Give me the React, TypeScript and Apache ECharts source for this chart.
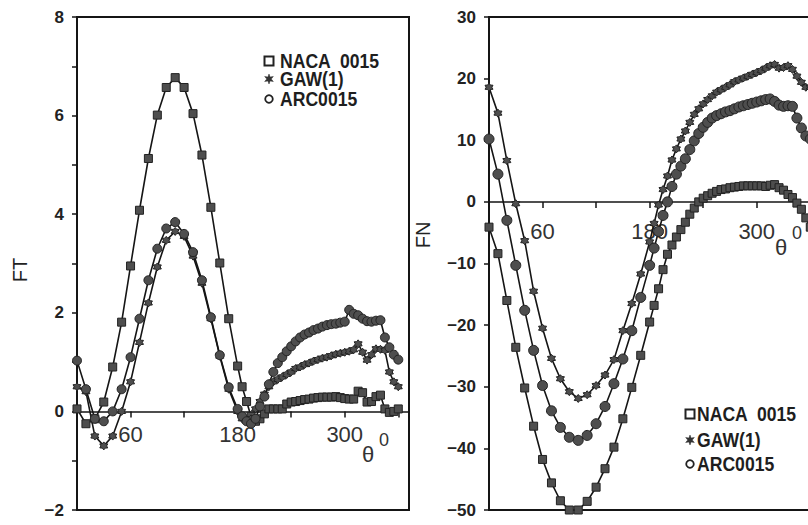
import React, { useEffect, useRef } from "react";
import * as echarts from "echarts";

// Azimuth positions (degrees): 10° steps on the upwind half, 5° on the downwind half
const THETA = [
  0, 10, 20, 30, 40, 50, 60, 70, 80, 90, 100, 110, 120, 130, 140, 150, 160, 170, 180,
  185, 190, 195, 200, 205, 210, 215, 220, 225, 230,
  235, 240, 245, 250, 255, 260, 265, 270, 275, 280,
  285, 290, 295, 300, 305, 310, 315, 320, 325, 330,
  335, 340, 345, 350, 355, 360,
];

// Tangential force FT
const FT_NACA = [
  0.05, -0.25, -0.15, 0.19, 0.9, 1.81, 2.95, 4.08, 5.13, 6.01, 6.57, 6.77, 6.57, 6.04, 5.2, 4.14, 3.01, 1.88, 0.92,
  0.5, 0.2, -0.1, -0.2, -0.15, -0.05, 0.05, 0.05, 0.05, 0.05,
  0.15, 0.19, 0.2, 0.22, 0.24, 0.25, 0.27, 0.28, 0.29, 0.29,
  0.29, 0.3, 0.28, 0.26, 0.25, 0.25, 0.41, 0.38, 0.19, 0.2,
  0.3, 0.33, 0.05, -0.02, 0.0, 0.05,
];
const FT_GAW = [
  0.5, 0.4, -0.5, -0.7, -0.5, 0.0, 0.6, 1.4, 2.2, 2.93, 3.47, 3.65, 3.55, 3.15, 2.6, 1.88, 1.12, 0.45, 0.0,
  -0.15, -0.2, -0.15, 0.05, 0.2, 0.35, 0.5, 0.6, 0.65, 0.7,
  0.75, 0.8, 0.87, 0.9, 0.95, 0.98, 1.02, 1.05, 1.08, 1.1,
  1.13, 1.16, 1.18, 1.2, 1.22, 1.25, 1.37, 1.2, 1.04, 1.15,
  1.27, 1.26, 1.24, 0.8, 0.6, 0.5,
];
const FT_ARC = [
  1.03, 0.45, -0.15, -0.2, 0.0, 0.45, 1.1, 1.88, 2.66, 3.3, 3.71, 3.84, 3.6, 3.23, 2.66, 1.91, 1.14, 0.49, 0.05,
  -0.1, -0.2, -0.25, -0.15, 0.1, 0.3, 0.55, 0.8, 0.98, 1.1,
  1.22, 1.32, 1.42, 1.5, 1.56, 1.6, 1.65, 1.68, 1.72, 1.75,
  1.77, 1.78, 1.8, 1.82, 2.06, 1.98, 1.95, 1.88, 1.83, 1.82,
  1.84, 1.85, 1.5, 1.3, 1.15, 1.05,
];

// Normal force FN
const FN_NACA = [
  -4.1, -8.4, -16.0, -23.6, -30.2, -36.4, -41.8, -45.6, -48.5, -50, -50, -48.6, -46.3, -43.3, -39.8, -35.2, -30.1, -24.9, -19.5,
  -16.8, -14.1, -11.0, -8.5, -7.0, -5.7, -4.5, -3.3, -2.0, -1.0,
  0.0, 0.6, 1.0, 1.4, 1.7, 2.0, 2.1, 2.3, 2.4, 2.5,
  2.6, 2.6, 2.6, 2.6, 2.6, 2.5, 2.7, 2.8, 2.3, 1.9,
  1.2, 0.7, -0.2, -1.2, -2.6, -4.1,
];
const FN_GAW = [
  18.6, 14.4, 6.7, -0.3, -6.3, -14.5, -20.5, -25.4, -28.7, -30.8, -31.9, -31.3, -29.8, -28.1, -25.6, -20.9, -16.5, -11.7, -6.5,
  -3.5, -0.5, 2.0, 4.2, 6.8, 8.6, 10.2, 11.5, 12.9, 14.2,
  15.1, 15.9, 16.6, 17.2, 17.8, 18.2, 18.6, 19.0, 19.5, 19.8,
  20.1, 20.4, 20.7, 21.0, 21.3, 21.7, 22.1, 22.3, 21.7, 21.8,
  22.1, 21.5, 20.4, 19.4, 18.6, 18.6,
];
const FN_ARC = [
  10.2, 4.5, -3.0, -10.3, -17.6, -24.1, -29.8, -33.9, -36.6, -38.2, -38.7, -37.9, -36.0, -33.2, -29.5, -25.5, -20.9, -15.5, -10.3,
  -7.5, -4.8, -2.2, 0.0, 2.5, 4.5, 5.8, 7.0, 8.5, 9.9,
  11.1, 12.1, 12.9, 13.6, 14.0, 14.3, 14.6, 14.8, 15.1, 15.4,
  15.6, 15.8, 16.0, 16.2, 16.4, 16.6, 16.7, 16.3, 15.7, 15.5,
  15.6, 15.5, 13.6, 12.0, 10.7, 10.2,
];

const SERIES_NAMES = ["NACA  0015", "GAW(1)", "ARC0015"];
const X_LABELS = [60, 180, 300];

// y ranges of the two panels
const FT_RANGE = [-2, 8];
const FN_RANGE = [-50, 30];

const INK = "#151515";
const MARK_FILL = "#4e4e4e";
const FONT = '"Liberation Sans", Arial, sans-serif';
const PLOT_TOP = 17;
const PLOT_H = 493;
const PLOT_W = 332;

// six-pointed star used for the GAW(1) markers
const STAR_PATH =
  "path://M0,-10 L3.2,-5.5 L8.7,-5 L6.2,0 L8.7,5 L3.2,5.5 L0,10 L-3.2,5.5 L-8.7,5 L-6.2,0 L-8.7,-5 L-3.2,-5.5 Z";

const fmtNum = (v: number) => (v < 0 ? "\u2212" + Math.abs(v) : String(v));

// the θ axis runs along the zero line of the force axis
function zeroOffset(range: number[]) {
  return -(PLOT_H * (0 - range[0])) / (range[1] - range[0]);
}

function xAxis(gridIndex: number, range: number[], labelMargin: number) {
  return {
    type: "value",
    gridIndex,
    position: "bottom",
    offset: zeroOffset(range),
    min: 0,
    max: 372,
    interval: 60,
    axisLine: { show: true, onZero: false, lineStyle: { color: INK, width: 1.6 } },
    axisTick: { show: true, length: 6, lineStyle: { color: INK, width: 1.5 } },
    axisLabel: {
      margin: labelMargin,
      color: "#333",
      fontSize: 22,
      fontFamily: FONT,
      formatter: (v: number) => (X_LABELS.includes(v) ? String(v) : ""),
    },
    splitLine: { show: false },
  };
}

function yAxis(gridIndex: number, range: number[], interval: number, labelEvery: number) {
  return {
    type: "value",
    gridIndex,
    min: range[0],
    max: range[1],
    interval,
    axisLine: { show: true, onZero: false, lineStyle: { color: INK, width: 2 } },
    axisTick: { show: true, length: 5, lineStyle: { color: INK, width: 1.5 } },
    axisLabel: {
      margin: 13,
      color: "#222",
      fontSize: 17,
      fontWeight: "bold",
      fontFamily: FONT,
      formatter: (v: number) => (Math.round(v) % labelEvery === 0 ? fmtNum(v) : ""),
    },
    splitLine: { show: false },
  };
}

function lineSeries(name: string, values: number[], axisIndex: number, symbol: string, symbolSize: number) {
  return {
    name,
    type: "line",
    xAxisIndex: axisIndex,
    yAxisIndex: axisIndex,
    data: THETA.map((t, i) => [t, values[i]]),
    symbol,
    symbolSize,
    showSymbol: true,
    clip: false,
    lineStyle: { color: INK, width: 1.6 },
    itemStyle: { color: MARK_FILL, borderColor: "#222", borderWidth: 1 },
    emphasis: { disabled: true },
  };
}

function starPoints(cx: number, cy: number, r: number) {
  const pts: number[][] = [];
  for (let i = 0; i < 12; i++) {
    const a = (Math.PI / 6) * i - Math.PI / 2;
    const rr = i % 2 === 0 ? r : r * 0.45;
    pts.push([cx + rr * Math.cos(a), cy + rr * Math.sin(a)]);
  }
  return pts;
}

function legendBlock(symX: number, textX: number, rows: number[]) {
  const els: any[] = [];
  els.push({
    type: "rect",
    shape: { x: symX - 4.5, y: rows[0] - 4.5, width: 9, height: 9 },
    style: { fill: "#fff", stroke: "#222", lineWidth: 2 },
  });
  els.push({
    type: "polygon",
    shape: { points: starPoints(symX, rows[1], 5) },
    style: { fill: "#333", stroke: "#333", lineWidth: 0.5 },
  });
  els.push({
    type: "circle",
    shape: { cx: symX, cy: rows[2], r: 3.8 },
    style: { fill: "#fff", stroke: "#222", lineWidth: 1.8 },
  });
  SERIES_NAMES.forEach((name, i) => {
    els.push({
      type: "text",
      x: textX,
      y: rows[i],
      scaleX: 0.88,
      style: {
        text: name,
        fill: "#1e1e1e",
        font: `bold 20px ${FONT}`,
        align: "left",
        verticalAlign: "middle",
      },
    });
  });
  return els;
}

function thetaMark(x: number, y: number) {
  return [
    {
      type: "text",
      x,
      y,
      style: { text: "\u03b8", fill: "#333", font: `22px ${FONT}`, align: "left", verticalAlign: "top" },
    },
    {
      type: "text",
      x: x + 17,
      y: y - 12,
      style: { text: "0", fill: "#333", font: `18px ${FONT}`, align: "left", verticalAlign: "top" },
    },
  ];
}

export default function App() {
  const ref = useRef<HTMLDivElement>(null);

  useEffect(() => {
    if (!ref.current) return;
    const chart = echarts.init(ref.current, null, { renderer: "svg" });

    const gridBase = {
      top: PLOT_TOP,
      width: PLOT_W,
      height: PLOT_H,
      show: true,
      borderColor: INK,
      borderWidth: 2,
      backgroundColor: "transparent",
      containLabel: false,
      outerBoundsMode: "none",
    };

    const option: any = {
      animation: false,
      backgroundColor: "#ffffff",
      grid: [
        { ...gridBase, left: 77 },
        { ...gridBase, left: 489 },
      ],
      xAxis: [xAxis(0, FT_RANGE, 12), xAxis(1, FN_RANGE, 19)],
      yAxis: [yAxis(0, FT_RANGE, 1, 2), yAxis(1, FN_RANGE, 10, 10)],
      series: [
        lineSeries(SERIES_NAMES[0], FT_NACA, 0, "rect", 8),
        lineSeries(SERIES_NAMES[1], FT_GAW, 0, STAR_PATH, 8),
        lineSeries(SERIES_NAMES[2], FT_ARC, 0, "circle", 9),
        lineSeries(SERIES_NAMES[0], FN_NACA, 1, "rect", 8),
        lineSeries(SERIES_NAMES[1], FN_GAW, 1, STAR_PATH, 8),
        lineSeries(SERIES_NAMES[2], FN_ARC, 1, "circle", 10),
      ],
      graphic: [
        {
          type: "text",
          x: 20,
          y: 270,
          rotation: Math.PI / 2,
          style: { text: "FT", fill: "#222", font: `20px ${FONT}`, align: "center", verticalAlign: "middle" },
        },
        {
          type: "text",
          x: 423,
          y: 235,
          rotation: Math.PI / 2,
          style: { text: "FN", fill: "#222", font: `20px ${FONT}`, align: "center", verticalAlign: "middle" },
        },
        ...thetaMark(362, 443),
        ...thetaMark(775, 236),
        ...legendBlock(269, 280, [61, 79, 99]),
        ...legendBlock(690, 697, [414, 440, 464]),
      ],
    };

    chart.setOption(option);
    return () => chart.dispose();
  }, []);

  return (
    <div
      ref={ref}
      style={{ position: "fixed", left: 0, top: 0, width: 808, height: 525, background: "#fff" }}
    />
  );
}
